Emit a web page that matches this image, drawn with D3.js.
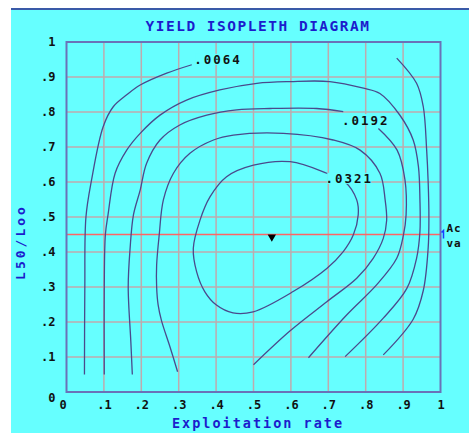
<!DOCTYPE html>
<html>
<head>
<meta charset="utf-8">
<script src="https://cdn.jsdelivr.net/npm/d3@7"></script>
<style>
  body { margin: 0; background: #fff; }
  svg { display: block; }
</style>
</head>
<body>
<div id="viz"></div>
<script>
const width = 469;
const height = 433;
const margin = {top: 42, right: 28.5, bottom: 41, left: 66.5};

// axis ticks
const xTicks = [0, 0.1, 0.2, 0.3, 0.4, 0.5, 0.6, 0.7, 0.8, 0.9, 1];
const xTickLabels = ['0', '.1', '.2', '.3', '.4', '.5', '.6', '.7', '.8', '.9', '1'];
const yTicks = [0, 0.1, 0.2, 0.3, 0.4, 0.5, 0.6, 0.7, 0.8, 0.9, 1];
const yTickLabels = ['0', '.1', '.2', '.3', '.4', '.5', '.6', '.7', '.8', '.9', '1'];

// isopleths (exploitation rate, L50/Loo)
const iso0064 = [
  [[0.048, 0.05], [0.049, 0.3], [0.052, 0.5], [0.067, 0.606], [0.098, 0.758], [0.125, 0.815],
   [0.161, 0.849], [0.197, 0.877], [0.268, 0.911], [0.335, 0.935]],
  [[0.883, 0.954], [0.936, 0.882], [0.954, 0.815], [0.963, 0.691], [0.967, 0.6], [0.969, 0.5],
   [0.967, 0.411], [0.954, 0.29], [0.927, 0.208], [0.847, 0.106]]
];
const iso0128 = [
  [[0.101, 0.05], [0.101, 0.3], [0.104, 0.45], [0.111, 0.506], [0.13, 0.625], [0.161, 0.691],
   [0.197, 0.739], [0.25, 0.791], [0.321, 0.834], [0.41, 0.863], [0.509, 0.882], [0.598, 0.887],
   [0.704, 0.887], [0.794, 0.868], [0.838, 0.853], [0.892, 0.79], [0.927, 0.72], [0.941, 0.644],
   [0.945, 0.55], [0.945, 0.458], [0.936, 0.382], [0.91, 0.296], [0.847, 0.211], [0.745, 0.101]]
];
const iso0192 = [
  [[0.176, 0.05], [0.172, 0.144], [0.165, 0.3], [0.17, 0.41], [0.179, 0.506], [0.197, 0.577],
   [0.214, 0.653], [0.25, 0.72], [0.303, 0.763], [0.375, 0.791], [0.455, 0.806], [0.544, 0.81],
   [0.669, 0.81], [0.74, 0.801]],
  [[0.834, 0.753], [0.884, 0.691], [0.905, 0.606], [0.908, 0.506], [0.901, 0.449], [0.883, 0.382],
   [0.829, 0.306], [0.749, 0.22], [0.647, 0.098]]
];
const iso0256 = [
  [[0.297, 0.058], [0.277, 0.128], [0.254, 0.204], [0.245, 0.249], [0.241, 0.3], [0.241, 0.363],
   [0.248, 0.45], [0.259, 0.549], [0.286, 0.625], [0.33, 0.682], [0.393, 0.72], [0.446, 0.734],
   [0.58, 0.739], [0.713, 0.72], [0.785, 0.691], [0.838, 0.625], [0.852, 0.549], [0.856, 0.49],
   [0.847, 0.439], [0.82, 0.382], [0.776, 0.325], [0.696, 0.258], [0.598, 0.175], [0.5, 0.078]]
];
// innermost one is a closed loop
const iso0321 = [
  [0.357, 0.491], [0.339, 0.41], [0.348, 0.343], [0.37, 0.286], [0.4, 0.249], [0.445, 0.226],
  [0.499, 0.229], [0.606, 0.287], [0.696, 0.353], [0.74, 0.401], [0.767, 0.449], [0.78, 0.506],
  [0.776, 0.549], [0.745, 0.6], [0.696, 0.625], [0.598, 0.658], [0.5, 0.648], [0.428, 0.615],
  [0.384, 0.558]
];

const isoLabels = ['.0064', '.0192', '.0321'];
const isoLabelAt = [[0.405, 0.949], [0.80, 0.777], [0.756, 0.609]];

const actualValue = 0.45;     // L50/Loo in use (red line)
const optimum = [0.549, 0.443]; // marker

const monoFont = '"DejaVu Sans Mono", monospace';

const svg = d3.select('#viz')
  .append('svg')
    .attr('width', width)
    .attr('height', height);

// cyan panel + top rule
svg.append('rect')
  .attr('x', 11).attr('y', 9)
  .attr('width', width - 11).attr('height', height - 9)
  .attr('fill', '#66ffff');
svg.append('line')
  .attr('x1', 11).attr('x2', width)
  .attr('y1', 9).attr('y2', 9)
  .attr('stroke', '#3a5aa8')
  .attr('stroke-width', 2);

const xScale = d3.scaleLinear()
  .domain([0, 1])
  .range([margin.left, width - margin.right]);
const yScale = d3.scaleLinear()
  .domain([0, 1])
  .range([height - margin.bottom, margin.top]);

// grid
svg.append('g')
  .selectAll('line')
  .data(xTicks.slice(1, -1))
  .join('line')
    .attr('x1', d => xScale(d)).attr('x2', d => xScale(d))
    .attr('y1', yScale(0)).attr('y2', yScale(1))
    .attr('stroke', '#bfaaae')
    .attr('stroke-width', 1.5);
svg.append('g')
  .selectAll('line')
  .data(yTicks.slice(1, -1))
  .join('line')
    .attr('x1', xScale(0)).attr('x2', xScale(1))
    .attr('y1', d => yScale(d)).attr('y2', d => yScale(d))
    .attr('stroke', '#bfaaae')
    .attr('stroke-width', 1.5);

// red line for current value
svg.append('line')
  .attr('x1', xScale(0)).attr('x2', xScale(1))
  .attr('y1', yScale(actualValue)).attr('y2', yScale(actualValue))
  .attr('stroke', '#ff6464')
  .attr('stroke-width', 1.6);

// isopleths
const lineGen = d3.line()
  .x(d => xScale(d[0]))
  .y(d => yScale(d[1]))
  .curve(d3.curveCatmullRom);

const contourG = svg.append('g')
  .attr('fill', 'none')
  .attr('stroke', '#4a4a8c')
  .attr('stroke-width', 1.3);

[iso0064, iso0128, iso0192, iso0256].forEach(segs => {
  segs.forEach(seg => {
    contourG.append('path').attr('d', lineGen(seg));
  });
});
contourG.append('path')
  .attr('d', d3.line()
    .x(d => xScale(d[0]))
    .y(d => yScale(d[1]))
    .curve(d3.curveCatmullRomClosed)(iso0321));

// contour labels
isoLabels.forEach((t, i) => {
  const lx = xScale(isoLabelAt[i][0]);
  const ly = yScale(isoLabelAt[i][1]);
  svg.append('rect')
    .attr('x', lx - 22).attr('y', ly - 6)
    .attr('width', 44).attr('height', 11)
    .attr('fill', '#66ffff');
  svg.append('text')
    .attr('x', lx).attr('y', ly + 4.5)
    .attr('text-anchor', 'middle')
    .attr('font-family', monoFont)
    .attr('font-weight', 700)
    .attr('font-size', 12.5)
    .attr('letter-spacing', 2)
    .attr('fill', '#111')
    .text(t);
});

// optimum marker
svg.append('path')
  .attr('d', d3.symbol().type(d3.symbolTriangle).size(30)())
  .attr('transform', `translate(${xScale(optimum[0])}, ${yScale(optimum[1])}) rotate(180)`)
  .attr('fill', '#000');

// frame
svg.append('rect')
  .attr('x', xScale(0)).attr('y', yScale(1))
  .attr('width', xScale(1) - xScale(0))
  .attr('height', yScale(0) - yScale(1))
  .attr('fill', 'none')
  .attr('stroke', '#6a72b8')
  .attr('stroke-width', 2);

// axes
const xAxis = d3.axisBottom(xScale)
  .tickValues(xTicks)
  .tickFormat((d, i) => xTickLabels[i])
  .tickSize(0)
  .tickPadding(8);
const xAxisGroup = svg.append('g')
  .attr('transform', `translate(0, ${yScale(0)})`)
  .call(xAxis);
xAxisGroup.select('.domain').remove();

const yAxis = d3.axisLeft(yScale)
  .tickValues(yTicks)
  .tickFormat((d, i) => yTickLabels[i])
  .tickSize(0)
  .tickPadding(11);
const yAxisGroup = svg.append('g')
  .attr('transform', `translate(${xScale(0)}, 0)`)
  .call(yAxis);
yAxisGroup.select('.domain').remove();

svg.selectAll('.tick text')
  .attr('font-family', monoFont)
  .attr('font-weight', 700)
  .attr('font-size', 12)
  .attr('fill', '#111');
// the zero labels sit a bit off in the original
xAxisGroup.selectAll('.tick text').filter(d => d === 0).attr('dx', -4);
yAxisGroup.selectAll('.tick text').filter(d => d === 0).attr('dy', '0.75em');

// titles
svg.append('text')
  .attr('x', 258).attr('y', 31)
  .attr('text-anchor', 'middle')
  .attr('font-family', monoFont)
  .attr('font-weight', 700)
  .attr('font-size', 14.5)
  .attr('letter-spacing', 1.5)
  .attr('fill', '#1c1ccc')
  .text('YIELD ISOPLETH DIAGRAM');

svg.append('text')
  .attr('x', 258).attr('y', 428)
  .attr('text-anchor', 'middle')
  .attr('font-family', monoFont)
  .attr('font-weight', 700)
  .attr('font-size', 13.5)
  .attr('letter-spacing', 2)
  .attr('fill', '#1c1ccc')
  .text('Exploitation rate');

svg.append('text')
  .attr('transform', 'translate(25, 242) rotate(-90)')
  .attr('text-anchor', 'middle')
  .attr('font-family', monoFont)
  .attr('font-weight', 700)
  .attr('font-size', 13)
  .attr('letter-spacing', 3)
  .attr('fill', '#1c1ccc')
  .text('L50/Loo');

// side note for the red line
svg.append('path')
  .attr('d', `M${xScale(1) + 3},${yScale(actualValue) + 4} l0,-8 l-2,2`)
  .attr('fill', 'none')
  .attr('stroke', '#1c3cff')
  .attr('stroke-width', 1.5);
svg.append('text')
  .attr('x', xScale(1) + 6).attr('y', yScale(actualValue) - 3)
  .attr('font-family', monoFont)
  .attr('font-weight', 700)
  .attr('font-size', 11)
  .attr('letter-spacing', 1)
  .attr('fill', '#111')
  .text('Ac');
svg.append('text')
  .attr('x', xScale(1) + 6).attr('y', yScale(actualValue) + 12)
  .attr('font-family', monoFont)
  .attr('font-weight', 700)
  .attr('font-size', 11)
  .attr('letter-spacing', 1)
  .attr('fill', '#111')
  .text('va');
</script>
</body>
</html>
